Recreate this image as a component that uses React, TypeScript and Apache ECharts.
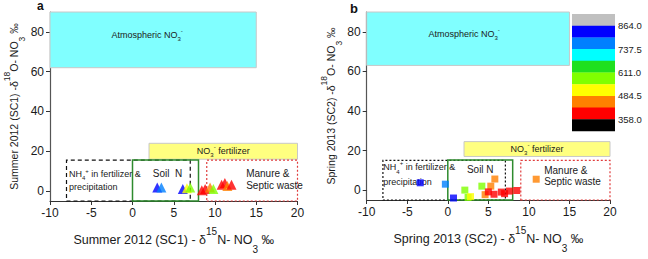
import React, { useEffect, useRef } from "react";
import * as echarts from "echarts";

// Panel a: Summer 2012 (SC1), triangles — [δ15N, δ18O, colour value]
const summerPoints: number[][] = [
  [3.0, 1.8, 830],
  [3.5, 1.8, 770],
  [6.1, 1.0, 830],
  [6.6, 1.4, 515],
  [7.0, 1.8, 580],
  [8.4, 0.4, 390],
  [8.8, 1.0, 390],
  [9.4, 1.8, 450],
  [9.8, 1.0, 580],
  [10.8, 3.2, 390],
  [11.2, 4.0, 390],
  [11.5, 2.6, 450],
  [12.0, 3.2, 390],
];

// Panel b: Spring 2013 (SC2), squares — [δ15N, δ18O, colour value]
const springPoints: number[][] = [
  [-3.4, 3.7, 830],
  [-0.3, 3.0, 770],
  [0.7, -4.0, 830],
  [2.1, 0.0, 580],
  [2.5, -3.7, 580],
  [2.8, -3.3, 515],
  [4.2, 2.0, 580],
  [5.8, 5.6, 450],
  [5.3, 2.0, 450],
  [4.6, -2.3, 450],
  [5.0, -0.9, 390],
  [5.7, -2.1, 390],
  [6.6, -1.0, 390],
  [7.0, -1.8, 390],
  [7.6, -0.5, 390],
  [8.5, -0.2, 390],
  [10.9, 5.5, 450],
];

// Source boxes: [xMin, xMax, yMin, yMax]
const boxesA = {
  atmospheric: [-10, 15, 62, 90],
  fertilizerNO3: [2, 20, 16, 24],
  fertilizerNH4: [-8, 7, -5, 15.5],
  soil: [0, 8, -5, 15.6],
  manure: [9, 20, -5, 15.5],
};
const boxesB = {
  atmospheric: [-10, 15, 63, 90],
  fertilizerNO3: [2, 20, 17, 24.5],
  fertilizerNH4: [-8, 7.1, -5, 15],
  soil: [0, 8, -5, 15.2],
  manure: [9, 20, -5, 15],
};

// Colour scale breaks and colours (bottom to top)
const scaleBreaks = [358, 421.25, 484.5, 547.75, 611, 674.25, 737.5, 800.75, 864];
const scaleColors = [
  "#000000",
  "#ff0000",
  "#ff8000",
  "#ffff00",
  "#80ff00",
  "#1fe01f",
  "#00ffff",
  "#0080ff",
  "#0000ff",
  "#c0c0c0",
];
const scaleTickLabels = ["864.0", "737.5", "611.0", "484.5", "358.0"];
const scaleTickValues = [864, 737.5, 611, 484.5, 358];

const yTickValues = [0, 20, 40, 60, 80];

const FONT = "'Liberation Sans', Arial, sans-serif";

const pieces = scaleColors.map((color, i) => {
  if (i === 0) return { lt: scaleBreaks[0], color };
  if (i === scaleColors.length - 1) return { gte: scaleBreaks[scaleBreaks.length - 1], color };
  return { gte: scaleBreaks[i - 1], lt: scaleBreaks[i], color };
});

const subSup = (size: number) => ({
  sup: { fontSize: size, lineHeight: size, verticalAlign: "top", fontFamily: FONT },
  sub: { fontSize: size, lineHeight: size, verticalAlign: "bottom", fontFamily: FONT },
});

const area = (b: number[], itemStyle: any, label: any) => [
  { xAxis: b[0], yAxis: b[2], itemStyle, label },
  { xAxis: b[1], yAxis: b[3] },
];

const smallLabel = (size: number, lh: number) => ({
  show: true,
  color: "#1a1a1a",
  fontFamily: FONT,
  fontSize: size,
  lineHeight: lh,
  distance: 0,
  rich: {
    sup: { fontSize: 6, lineHeight: 6, verticalAlign: "top", fontFamily: FONT, color: "#1a1a1a" },
    sub: { fontSize: 6, lineHeight: 6, verticalAlign: "bottom", fontFamily: FONT, color: "#1a1a1a" },
  },
});

function buildAreas(b: typeof boxesA, panel: "a" | "b") {
  const dotted = panel === "a" ? [4, 3] : [2, 2];
  return [
    area(
      b.atmospheric,
      { color: "#80ffff", borderColor: "#c8c8c8", borderWidth: 1 },
      { ...smallLabel(9, 14), position: "inside", offset: panel === "a" ? [-6, -5] : [-4, -5], formatter: "Atmospheric NO{sub|3}{sup|-}" }
    ),
    area(
      b.fertilizerNO3,
      { color: "#ffff80", borderColor: "#c8c8c8", borderWidth: 1 },
      { ...smallLabel(9, 14), position: "inside", formatter: "NO{sub|3}{sup|-} fertilizer" }
    ),
    area(
      b.fertilizerNH4,
      { color: "rgba(0,0,0,0)", borderColor: "#111", borderWidth: 1.2, borderType: dotted },
      {
        ...smallLabel(9, panel === "a" ? 13 : 15),
        position: "insideTopLeft",
        offset: panel === "a" ? [3, 8] : [1, 0],
        formatter: "NH{sub|4}{sup|+} in fertilizer &\nprecipitation",
      }
    ),
    area(
      b.soil,
      { color: "rgba(0,0,0,0)", borderColor: "#2e8b2e", borderWidth: 1.5 },
      { ...smallLabel(10, 12), position: "insideTop", offset: panel === "a" ? [2, 8] : [0, 4], formatter: panel === "a" ? "Soil  N" : "Soil N" }
    ),
    area(
      b.manure,
      { color: "rgba(0,0,0,0)", borderColor: "#e03c3c", borderWidth: 1.2, borderType: [2, 2] },
      {
        ...smallLabel(10, panel === "a" ? 12 : 11),
        position: "insideTopLeft",
        offset: panel === "a" ? [40, 8] : [24, 5],
        formatter: "Manure &\nSeptic waste",
      }
    ),
  ];
}

function xAxisFor(gridIndex: number, name: string) {
  return {
    gridIndex,
    type: "value",
    min: -10,
    max: 20,
    interval: 5,
    splitLine: { show: false },
    axisLine: { show: true, onZero: false, lineStyle: { color: "#333", width: 1 } },
    axisTick: { show: true, length: 4, lineStyle: { color: "#333" } },
    axisLabel: { fontSize: 12, margin: 6, color: "#1a1a1a", fontFamily: FONT },
    name,
    nameLocation: "middle",
    nameGap: 25,
    nameTextStyle: { fontSize: 12.5, lineHeight: 28, color: "#1a1a1a", fontFamily: FONT, rich: subSup(10) },
  };
}

function yAxisFor(gridIndex: number, name: string, gap: number) {
  return {
    gridIndex,
    type: "value",
    min: -5,
    max: 90,
    splitLine: { show: false },
    axisLine: { show: true, onZero: false, lineStyle: { color: "#555", width: 1.2 } },
    axisTick: { show: true, length: 4, customValues: yTickValues, lineStyle: { color: "#333" } },
    axisLabel: { fontSize: 12, margin: 6, color: "#1a1a1a", fontFamily: FONT, customValues: yTickValues },
    name,
    nameLocation: "middle",
    nameGap: gap,
    nameTextStyle: { fontSize: 10.5, lineHeight: 24, color: "#1a1a1a", fontFamily: FONT, rich: subSup(8.5) },
  };
}

// Colour scale legend drawn from the same breaks and colours as the visualMap
function colorBar() {
  const left = 572;
  const top = 14;
  const width = 43;
  const bandH = 11.7;
  const step = scaleBreaks[1] - scaleBreaks[0];
  const topValue = scaleBreaks[scaleBreaks.length - 1] + step;
  const rects = scaleColors
    .slice()
    .reverse()
    .map((c, i) => ({
      type: "rect",
      shape: { x: left, y: top + i * bandH, width, height: bandH + 0.3 },
      style: { fill: c },
    }));
  const labels = scaleTickLabels.map((t, i) => ({
    type: "text",
    x: left + width + 3,
    y: top + ((topValue - scaleTickValues[i]) / step) * bandH,
    style: { text: t, fontSize: 9.5, fontFamily: FONT, fill: "#1a1a1a", verticalAlign: "middle", align: "left" },
  }));
  return [...rects, ...labels];
}

export default function App() {
  const ref = useRef<HTMLDivElement>(null);

  useEffect(() => {
    document.body.style.margin = "0";
    const chart = echarts.init(ref.current!, null, { renderer: "svg" });
    chart.setOption({
      animation: false,
      backgroundColor: "#ffffff",
      textStyle: { fontFamily: FONT },
      grid: [
        { left: 50, top: 12, width: 247.5, height: 190 },
        { left: 366.7, top: 12, width: 243.3, height: 188 },
      ],
      xAxis: [
        xAxisFor(0, "Summer 2012 (SC1) - δ{sup|15}N- NO{sub|3} ‰"),
        xAxisFor(1, "Spring 2013 (SC2) - δ{sup|15}N- NO{sub|3} ‰"),
      ],
      yAxis: [
        yAxisFor(0, "Summer 2012 (SC1) -δ{sup|18}O- NO{sub|3} ‰", 24),
        yAxisFor(1, "Spring 2013 (SC2) -δ{sup|18}O- NO{sub|3} ‰", 23),
      ],
      visualMap: {
        type: "piecewise",
        show: false,
        dimension: 2,
        seriesIndex: [0, 1],
        pieces,
      },
      series: [
        {
          type: "scatter",
          xAxisIndex: 0,
          yAxisIndex: 0,
          symbol: "triangle",
          symbolSize: 10,
          data: summerPoints,
          markArea: { silent: true, data: buildAreas(boxesA, "a") },
          z: 5,
        },
        {
          type: "scatter",
          xAxisIndex: 1,
          yAxisIndex: 1,
          symbol: "rect",
          symbolSize: 7,
          data: springPoints,
          markArea: { silent: true, data: buildAreas(boxesB, "b") },
          z: 5,
        },
      ],
      graphic: [
        { type: "text", x: 37, y: 0, style: { text: "a", fontSize: 12, fontWeight: "bold", fontFamily: FONT, fill: "#111" } },
        { type: "text", x: 350, y: 2, style: { text: "b", fontSize: 13, fontWeight: "bold", fontFamily: FONT, fill: "#111" } },
        ...colorBar(),
      ],
    });
    return () => chart.dispose();
  }, []);

  return <div ref={ref} style={{ position: "fixed", left: 0, top: 0, width: 648, height: 259 }} />;
}
